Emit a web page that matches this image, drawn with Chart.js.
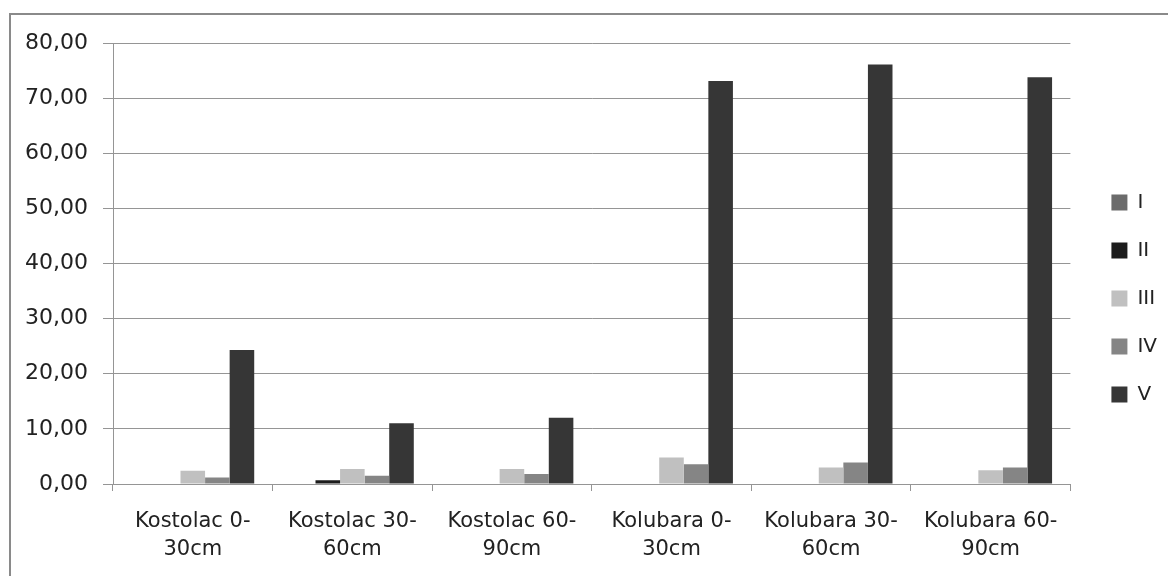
<!DOCTYPE html>
<html lang="sr">
<head>
  <meta charset="UTF-8" />
  <title>Kostolac / Kolubara</title>
  <script src="https://cdn.jsdelivr.net/npm/chart.js"></script>
  <style>
    html, body { margin: 0; padding: 0; background: #fff; overflow: hidden; }
    #wrap { position: relative; width: 1168px; height: 576px; }
    #frame {
      position: absolute; left: 9px; top: 13px; width: 1200px; height: 600px;
      border-top: 2px solid #8a8a8a; border-left: 2px solid #8a8a8a;
    }
    #chart { position: absolute; left: 0; top: 0; }
  </style>
</head>
<body>
<div id="wrap">
  <div id="frame"></div>
  <canvas id="chart" width="1168" height="576"></canvas>
</div>

<script>
// categories and series
const categories = [
  ["Kostolac 0-", "30cm"],
  ["Kostolac 30-", "60cm"],
  ["Kostolac 60-", "90cm"],
  ["Kolubara 0-", "30cm"],
  ["Kolubara 30-", "60cm"],
  ["Kolubara 60-", "90cm"]
];
const seriesNames = ["I", "II", "III", "IV", "V"];
const valsI   = [0, 0, 0, 0, 0, 0];
const valsII  = [0, 0.7, 0, 0, 0, 0];
const valsIII = [2.4, 2.7, 2.7, 4.8, 3.0, 2.5];
const valsIV  = [1.2, 1.5, 1.8, 3.6, 3.9, 3.0];
const valsV   = [24.3, 11.0, 12.0, 73.1, 76.1, 73.8];
const yTicks  = [0, 10, 20, 30, 40, 50, 60, 70, 80];

const colors = ["#6b6b6b", "#1c1c1c", "#c0c0c0", "#858585", "#363636"];
const allVals = [valsI, valsII, valsIII, valsIV, valsV];
const gridCol = "#959595";

// nudge the legend a bit right of the plot and up
const legendShift = {
  id: "legendShift",
  afterLayout(chart) {
    if (chart.legend) {
      chart.legend.left += 13;
      chart.legend.right += 13;
      chart.legend.top -= 11;
      chart.legend.bottom -= 11;
    }
  }
};

new Chart(document.getElementById("chart"), {
  type: "bar",
  data: {
    labels: categories,
    datasets: seriesNames.map((n, i) => ({
      label: n,
      data: allVals[i],
      backgroundColor: colors[i],
      borderWidth: 0,
      categoryPercentage: 0.77,
      barPercentage: 1.0
    }))
  },
  plugins: [legendShift],
  options: {
    responsive: false,
    animation: false,
    layout: { padding: { left: 25, top: 43, right: 14, bottom: 0 } },
    plugins: {
      tooltip: { enabled: false },
      legend: {
        position: "right",
        maxWidth: 98,
        labels: {
          boxWidth: 16,
          boxHeight: 16,
          padding: 28,
          color: "#222",
          font: { family: "DejaVu Sans", size: 20 }
        }
      }
    },
    scales: {
      x: {
        grid: { drawOnChartArea: false, drawTicks: true, tickLength: 7, color: gridCol, offset: true },
        border: { display: true, color: gridCol, width: 1 },
        ticks: {
          color: "#222",
          padding: 16,
          maxRotation: 0,
          autoSkip: false,
          font: { family: "DejaVu Sans", size: 21, lineHeight: 1.36 }
        },
        afterFit(s) { s.height = 92; }
      },
      y: {
        min: 0,
        max: 80,
        afterBuildTicks(s) { s.ticks = yTicks.map(v => ({ value: v })); },
        grid: { color: gridCol, tickLength: 10, lineWidth: 1 },
        border: { display: true, color: gridCol, width: 1 },
        ticks: {
          color: "#222",
          padding: 15,
          font: { family: "DejaVu Sans", size: 22 },
          callback: v => v.toFixed(2).replace(".", ",")
        },
        afterFit(s) { s.width = 88; }
      }
    }
  }
});
</script>
</body>
</html>
